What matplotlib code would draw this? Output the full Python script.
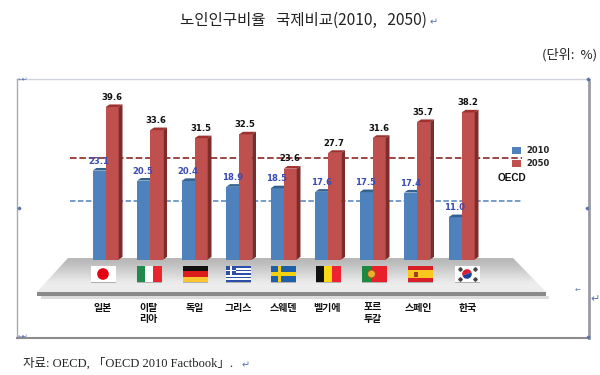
import numpy as np
import matplotlib
matplotlib.use("Agg")
import matplotlib.pyplot as plt
from matplotlib.patches import Polygon, Rectangle, Circle, Wedge

countries = ["일본", "이탈\n리아", "독일", "그리스", "스웨덴", "벨기에", "포르\n투갈", "스페인", "한국"]
values_2010 = [23.1, 20.5, 20.4, 18.9, 18.5, 17.6, 17.5, 17.4, 11.0]
values_2050 = [39.6, 33.6, 31.5, 32.5, 23.6, 27.7, 31.6, 35.7, 38.2]
oecd_2010 = 15.3
oecd_2050 = 26.4
series_names = ["2010", "2050"]
title = "노인인구비율   국제비교(2010,   2050)"
unit = "(단위:  %)"
source = "자료: OECD, 「OECD 2010 Factbook」."

KR = ["Noto Sans CJK KR", "DejaVu Sans"]
SERIF = ["Liberation Serif", "Noto Sans CJK KR"]
BLUE, BLUE_TOP = "#4f81bd", "#35618f"
RED, RED_TOP, RED_SIDE = "#c0504d", "#9e3230", "#7c2c2a"
MARK = "#5a74b0"

W, H = 600, 375
fig = plt.figure(figsize=(W / 100, H / 100), dpi=100)

# pixel-space layer for page furniture
pg = fig.add_axes([0, 0, 1, 1], zorder=1)
pg.set_xlim(0, W); pg.set_ylim(H, 0); pg.axis("off")

# data layer: one category unit = 44.5 px, one percent = 3.85 px
X0, XS, Y0, YS = 105.7, 44.5, 259.5, 3.85
ax = fig.add_axes([0, 0, 1, 1], zorder=2)
ax.set_xlim(-X0 / XS, (W - X0) / XS)
ax.set_ylim((Y0 - H) / YS, Y0 / YS)
ax.axis("off"); ax.patch.set_alpha(0)

# frame
pg.plot([17, 588], [79, 79], color="#d0d3da", lw=1)
pg.plot([17, 17], [79, 338], color="#a8aab0", lw=1)
pg.plot([17, 589], [338, 338], color="#8c8c8c", lw=1.5)
pg.plot([588.5, 588.5], [80, 338], color="#9a9ca2", lw=2)

# platform
grad = np.array([0.72, 0.75, 0.79, 0.83, 0.87, 0.91, 0.93, 0.92])[:, None]
im = pg.imshow(grad, cmap="gray", vmin=0, vmax=1, extent=(37, 546, 292, 258),
               aspect="auto", interpolation="bilinear", zorder=1)
plat = Polygon([(68, 258), (513, 258), (546, 292), (37, 292)], closed=True,
               transform=pg.transData, fc="none", ec="none")
pg.add_patch(plat); im.set_clip_path(plat)
pg.set_xlim(0, W); pg.set_ylim(H, 0)
pg.add_patch(Rectangle((37, 292), 509, 4, fc="#8a8a8a", ec="none", zorder=2))
pg.add_patch(Rectangle((41, 296), 508, 3, fc="#dcdcdc", ec="none", zorder=2))

# OECD reference lines
ax.plot([-0.8, 9.35], [oecd_2010] * 2, color="#4f81bd", lw=1.1, ls=(0, (3.6, 1.6)), zorder=1)
ax.plot([-0.8, 9.35], [oecd_2050] * 2, color="#953735", lw=1.3, ls=(0, (3.6, 1.6)), zorder=1)

# bars with pseudo-3D faces
x = np.arange(len(countries))
bw = 13 / XS
dx, dy = 3.8 / XS, 2.6 / YS
ax.bar(x - bw / 2, values_2010, bw, color=BLUE, zorder=3)
ax.bar(x + bw / 2, values_2050, bw, color=RED, zorder=4)
for xi, a, b in zip(x, values_2010, values_2050):
    ax.add_patch(Polygon([(xi - bw, a), (xi - bw + dx, a + dy), (xi + dx, a + dy), (xi, a)],
                         fc=BLUE_TOP, ec="none", zorder=3))
    ax.add_patch(Polygon([(xi, b), (xi + dx, b + dy), (xi + bw + dx, b + dy), (xi + bw, b)],
                         fc=RED_TOP, ec="none", zorder=4))
    ax.add_patch(Polygon([(xi + bw, 0), (xi + bw + dx, dy), (xi + bw + dx, b + dy), (xi + bw, b)],
                         fc=RED_SIDE, ec="none", zorder=4))
    ax.text(xi - 0.157, a + 1.25, f"{a:.1f}", ha="center", va="bottom", fontsize=6.1,
            fontweight="bold", color="#3a4cb4", family="DejaVu Sans", zorder=6)
    ax.text(xi + 0.135, b + 1.35, f"{b:.1f}", ha="center", va="bottom", fontsize=6.1,
            fontweight="bold", color="#111111", family="DejaVu Sans", zorder=6)

# flags (pixel layer)
centers = [103, 149, 195, 238, 283, 328, 374, 420, 467]
FW, FH, FT = 25, 16, 266
def rect(l, t, w, h, c, z=3):
    pg.add_patch(Rectangle((l, t), w, h, fc=c, ec="none", zorder=z))
for cx in centers:
    rect(cx - FW / 2 + 0.8, FT + 0.8, FW, FH, "#b0b0b0", 2.5)
def left(i): return centers[i] - FW / 2
rect(left(0), FT, FW, FH, "white")
pg.add_patch(Circle((centers[0], FT + FH / 2), 5.8, fc="#e60012", ec="none", zorder=4))
for j, c in enumerate(["#1f8a4c", "white", "#e8262d"]):
    rect(left(1) + j * FW / 3, FT, FW / 3, FH, c)
for j, c in enumerate(["#111111", "#dd1c1c", "#fbc631"]):
    rect(left(2), FT + j * FH / 3, FW, FH / 3, c)
rect(left(3), FT, FW, FH, "white")
for j in range(0, 9, 2):
    rect(left(3), FT + j * FH / 9, FW, FH / 9, "#2d4fa8")
rect(left(3), FT, 10, FH * 5 / 9, "#2d4fa8", 4)
rect(left(3) + 4, FT, 2, FH * 5 / 9, "white", 5)
rect(left(3), FT + FH * 2 / 9, 10, FH / 9, "white", 5)
rect(left(4), FT, FW, FH, "#1f5fa8")
rect(left(4), FT + 6.4, FW, 3.2, "#f5d010", 4)
rect(left(4) + 7.5, FT, 3.2, FH, "#f5d010", 4)
for j, c in enumerate(["#111111", "#f7d917", "#ee2230"]):
    rect(left(5) + j * FW / 3, FT, FW / 3, FH, c)
rect(left(6), FT, FW, FH, "#e8202a")
rect(left(6), FT, FW * 0.4, FH, "#1c8a3c", 4)
pg.add_patch(Circle((left(6) + FW * 0.4, FT + FH / 2), 4, fc="#e8b030", ec="#a85020", lw=0.8, zorder=5))
rect(left(7), FT, FW, FH, "#d81e26")
rect(left(7), FT + FH / 4, FW, FH / 2, "#f8c820", 4)
rect(left(7) + 6.5, FT + 6, 4, 4.5, "#a04018", 5)
rect(left(8), FT, FW, FH, "white")
cy = FT + FH / 2
pg.add_patch(Wedge((centers[8], cy), 4.8, 160, 340, fc="#d81e30", ec="none", zorder=4))
pg.add_patch(Wedge((centers[8], cy), 4.8, 340, 160, fc="#1f3f9c", ec="none", zorder=4))
for sx in (-1, 1):
    for sy in (-1, 1):
        pg.plot([centers[8] + sx * 7.5], [cy + sy * 4.8], marker="D", ms=1.8, color="#444444", zorder=4)

# category labels
label_x = [103, 148, 195, 238, 283, 327, 373, 418, 468]
for lx, name in zip(label_x, countries):
    pg.text(lx, 302.5, name, ha="center", va="top", fontsize=7.2, fontweight="bold", linespacing=1.15,
            color="#111111", family=KR, zorder=6)

# legend
for name, c, ty in zip(series_names, [BLUE, RED], [150.5, 163]):
    pg.add_patch(Rectangle((512, ty - 3.5), 9, 7, fc=c, ec="none", zorder=6))
    pg.text(526, ty, name, ha="left", va="center", fontsize=6, fontweight="bold",
            color="#222222", family="DejaVu Sans", zorder=6)
pg.text(498, 178, "OECD", ha="left", va="center", fontsize=7.2, fontweight="bold",
        color="#111111", family="Liberation Sans", zorder=6)

# page text
pg.text(180, 20.5, title, ha="left", va="center", fontsize=11.2, color="#222222", family=KR)
pg.text(430, 22, "↵", ha="left", va="center", fontsize=7, color=MARK, family="DejaVu Sans")
pg.text(597, 54.5, unit, ha="right", va="center", fontsize=9.5, color="#222222", family=KR)
pg.text(23, 364, source, ha="left", va="center", fontsize=9, color="#222222", family=SERIF)
pg.text(242, 365.5, "↵", ha="left", va="center", fontsize=7, color=MARK, family="DejaVu Sans")

# layout marks
pg.text(18, 79.5, "↤↵", ha="left", va="center", fontsize=4.5, color=MARK, family="DejaVu Sans")
pg.text(18, 337, "↤↵", ha="left", va="center", fontsize=4.5, color=MARK, family="DejaVu Sans")
pg.text(578, 291, "←", ha="center", va="center", fontsize=5, color=MARK, family="DejaVu Sans")
pg.text(595, 299, "↵", ha="center", va="center", fontsize=8, color=MARK, family="DejaVu Sans")
for px, py in [(588, 79), (587, 208), (19, 208), (588, 337)]:
    pg.plot([px], [py], marker="D", ms=1.4, color=MARK, zorder=6)

fig.savefig("out.png", dpi=100)
